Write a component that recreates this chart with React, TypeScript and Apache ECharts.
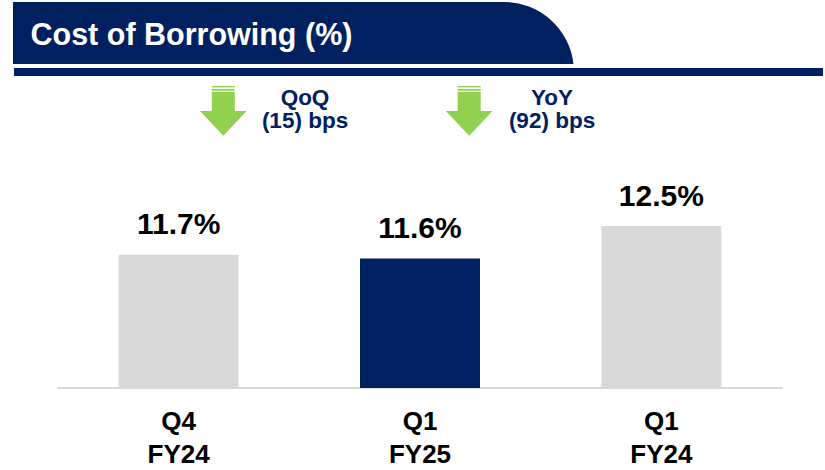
import React, { useEffect, useRef } from "react";
import * as echarts from "echarts";

const categories = ["Q4\nFY24", "Q1\nFY25", "Q1\nFY24"];
const values = [11.7, 11.6, 12.5];
const barColors = ["#D9D9D9", "#002060", "#D9D9D9"];
const changeTitles = ["QoQ", "YoY"];
const changeValues = ["(15) bps", "(92) bps"];
const title = "Cost of Borrowing (%)";

const NAVY = "#002060";
const GREEN = "#92D050";
const FONT = "'Liberation Sans', Arial, sans-serif";

let registered = false;
function registerShapes() {
  if (registered) return;
  registered = true;
  echarts.graphic.registerShape(
    "banner",
    echarts.graphic.extendPath("M0 0 H491 A70 70 0 0 1 560.5 62 H0 Z", {}) as any
  );
}

function arrow(cx: number): any[] {
  return [
    { type: "rect", shape: { x: cx - 11.5, y: 86, width: 23, height: 1.4 }, style: { fill: GREEN } },
    { type: "rect", shape: { x: cx - 11.5, y: 89, width: 23, height: 1.7 }, style: { fill: GREEN } },
    {
      type: "polygon",
      shape: {
        points: [
          [cx - 11.5, 91.7],
          [cx + 11.5, 91.7],
          [cx + 11.5, 111],
          [cx + 23.3, 111],
          [cx, 135.7],
          [cx - 23.3, 111],
          [cx - 11.5, 111],
        ],
      },
      style: { fill: GREEN },
    },
  ];
}

export default function App() {
  const ref = useRef<HTMLDivElement>(null);
  useEffect(() => {
    registerShapes();
    const chart = echarts.init(ref.current!, null, { renderer: "svg" });
    const arrowX = [223.3, 469.2];
    const textX = [305, 552];
    const graphics: any[] = [
      { type: "banner", x: 13, y: 2, style: { fill: NAVY } },
      {
        type: "text",
        x: 30.5,
        y: 33.5,
        style: {
          text: title,
          fill: "#FFFFFF",
          font: `bold 30.5px ${FONT}`,
          verticalAlign: "middle",
        },
      },
      { type: "rect", shape: { x: 14, y: 68, width: 809, height: 8 }, style: { fill: NAVY } },
    ];
    arrowX.forEach((x) => graphics.push(...arrow(x)));
    changeTitles.forEach((t, i) => {
      graphics.push({
        type: "text",
        x: textX[i],
        y: 108.5,
        style: {
          text: `${t}\n${changeValues[i]}`,
          fill: NAVY,
          font: `bold 22.5px ${FONT}`,
          lineHeight: 23,
          align: "center",
          verticalAlign: "middle",
        },
      });
    });

    chart.setOption({
      animation: false,
      backgroundColor: "#FFFFFF",
      grid: { left: 58, right: 43, top: 208, bottom: 74.5 },
      xAxis: {
        type: "category",
        data: categories,
        axisLine: { lineStyle: { color: "#D9D9D9", width: 2 } },
        axisTick: { show: false },
        axisLabel: {
          color: "#000000",
          fontFamily: FONT,
          fontWeight: "bold",
          fontSize: 26,
          lineHeight: 33,
          margin: 16,
        },
      },
      yAxis: {
        type: "value",
        min: 8,
        max: 13,
        show: false,
        splitLine: { show: false },
      },
      series: [
        {
          type: "bar",
          barWidth: 120,
          data: values.map((v, i) => ({ value: v, itemStyle: { color: barColors[i] } })),
          label: {
            show: true,
            position: "top",
            distance: 16,
            formatter: (p: any) => `${p.value.toFixed(1)}%`,
            color: "#000000",
            fontFamily: FONT,
            fontWeight: "bold",
            fontSize: 30,
            lineHeight: 30,
          },
        },
      ],
      graphic: graphics,
    });
    return () => chart.dispose();
  }, []);
  return <div ref={ref} style={{ width: 825, height: 470, position: "absolute", left: 0, top: 0 }} />;
}
